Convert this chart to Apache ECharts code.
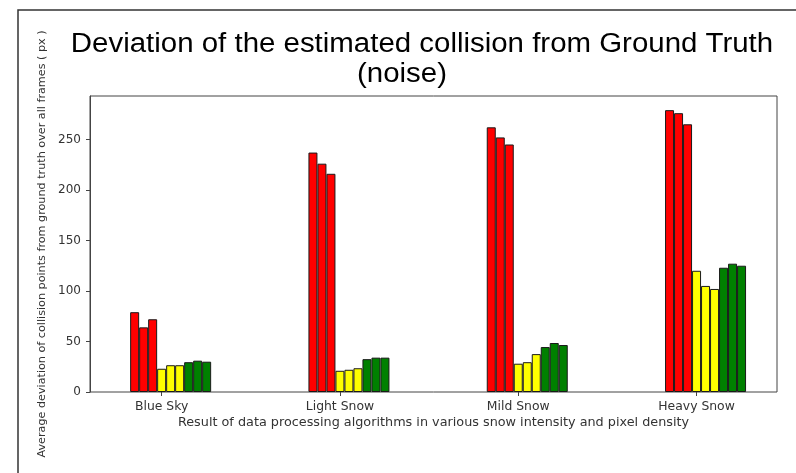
<!DOCTYPE html>
<html><head><meta charset="utf-8">
<script src="https://cdn.jsdelivr.net/npm/echarts@6/dist/echarts.min.js"></script>
<style>html,body{margin:0;padding:0;background:#fff}#c{width:796px;height:473px}</style>
</head><body><div id="c"></div>
<script>
const categories = ['Blue Sky', 'Light Snow', 'Mild Snow', 'Heavy Snow'];
const red1 = [79, 237, 262, 279];
const red2 = [64, 226, 252, 276];
const red3 = [72, 216, 245, 265];
const yellow1 = [23, 21, 28, 120];
const yellow2 = [26.5, 22, 29.5, 105];
const yellow3 = [26.5, 23.5, 37.5, 102];
const green1 = [29.5, 32.5, 44.5, 123];
const green2 = [31, 34, 48.5, 127];
const green3 = [30, 34, 46.5, 125];
const yTicks = [0, 50, 100, 150, 200, 250];
const titleLine1 = 'Deviation of the estimated collision from Ground Truth';
const titleLine2 = '(noise)';
const xName = 'Result of data processing algorithms in various snow intensity and pixel density';
const yName = 'Average deviation of collision points from ground truth over all frames ( px )';

(function () {
const chart = echarts.init(document.getElementById('c'), null, {renderer: 'canvas'});
const Y_MAX = 293;
const gTop = 96, gBottom = 81;
const bandW = 178.3;

function barSeries(name, data, color) {
  return {
    name, type: 'bar', data, xAxisIndex: 1, yAxisIndex: 1,
    barWidth: 9, barGap: '0%',
    itemStyle: {color, borderColor: '#1a1a1a', borderWidth: 1},
    emphasis: {disabled: true}, animation: false
  };
}

const series = [
  barSeries('r1', red1, '#ff0000'), barSeries('r2', red2, '#ff0000'), barSeries('r3', red3, '#ff0000'),
  barSeries('y1', yellow1, '#ffff00'), barSeries('y2', yellow2, '#ffff00'), barSeries('y3', yellow3, '#ffff00'),
  barSeries('g1', green1, '#008000'), barSeries('g2', green2, '#008000'), barSeries('g3', green3, '#008000')
];

const labelFont = 'DejaVu Sans';
chart.setOption({
  animation: false,
  backgroundColor: '#fff',
  grid: [
    {left: 90, right: 19, top: gTop, bottom: gBottom, show: true, borderColor: '#444', borderWidth: 1, backgroundColor: 'transparent'},
    {left: 81.5, width: bandW * 4, top: gTop, bottom: gBottom},
    {left: 72.5, width: bandW * 4, top: gTop, bottom: gBottom}
  ],
  xAxis: [
    {gridIndex: 0, type: 'value', min: 0, max: 1, axisLine: {show: false}, axisTick: {show: false},
     axisLabel: {show: false}, splitLine: {show: false},
     name: xName, nameLocation: 'middle', nameGap: 24,
     nameTextStyle: {fontFamily: labelFont, fontSize: 12.8, color: '#333'}},
    {gridIndex: 1, type: 'category', data: categories, axisLine: {show: false}, axisTick: {show: false},
     axisLabel: {show: false}},
    {gridIndex: 2, type: 'category', data: categories, axisLine: {show: false},
     axisTick: {show: true, alignWithLabel: true, length: 4, lineStyle: {color: '#444'}},
     axisLabel: {margin: 8.5, fontFamily: labelFont, fontSize: 12.4, color: '#333'}}
  ],
  yAxis: [
    {gridIndex: 0, type: 'value', min: 0, max: Y_MAX,
     axisLine: {show: true, lineStyle: {color: '#444'}},
     axisTick: {show: true, length: 4, customValues: yTicks, lineStyle: {color: '#444'}},
     axisLabel: {customValues: yTicks, margin: 9, fontFamily: labelFont, fontSize: 12, color: '#333'},
     splitLine: {show: false},
     name: yName, nameLocation: 'middle', nameGap: 36, nameRotate: 90,
     nameTextStyle: {fontFamily: labelFont, fontSize: 11.2, color: '#333'}},
    {gridIndex: 1, type: 'value', min: 0, max: Y_MAX, show: false},
    {gridIndex: 2, type: 'value', min: 0, max: Y_MAX, show: false}
  ],
  graphic: [
    {type: 'rect', shape: {x: 18, y: 10, width: 820, height: 520}, style: {fill: 'none', stroke: '#333', lineWidth: 1.5}, silent: true},
    {type: 'text', x: 422, y: 45, scaleX: 1.09, style: {text: titleLine1, x: 0, y: 0, align: 'center', verticalAlign: 'middle',
      font: '27px "Liberation Sans"', fill: '#000'}},
    {type: 'text', x: 402, y: 75, scaleX: 1.09, style: {text: titleLine2, x: 0, y: 0, align: 'center', verticalAlign: 'middle',
      font: '27px "Liberation Sans"', fill: '#000'}}
  ],
  series
});
})();
</script></body></html>
